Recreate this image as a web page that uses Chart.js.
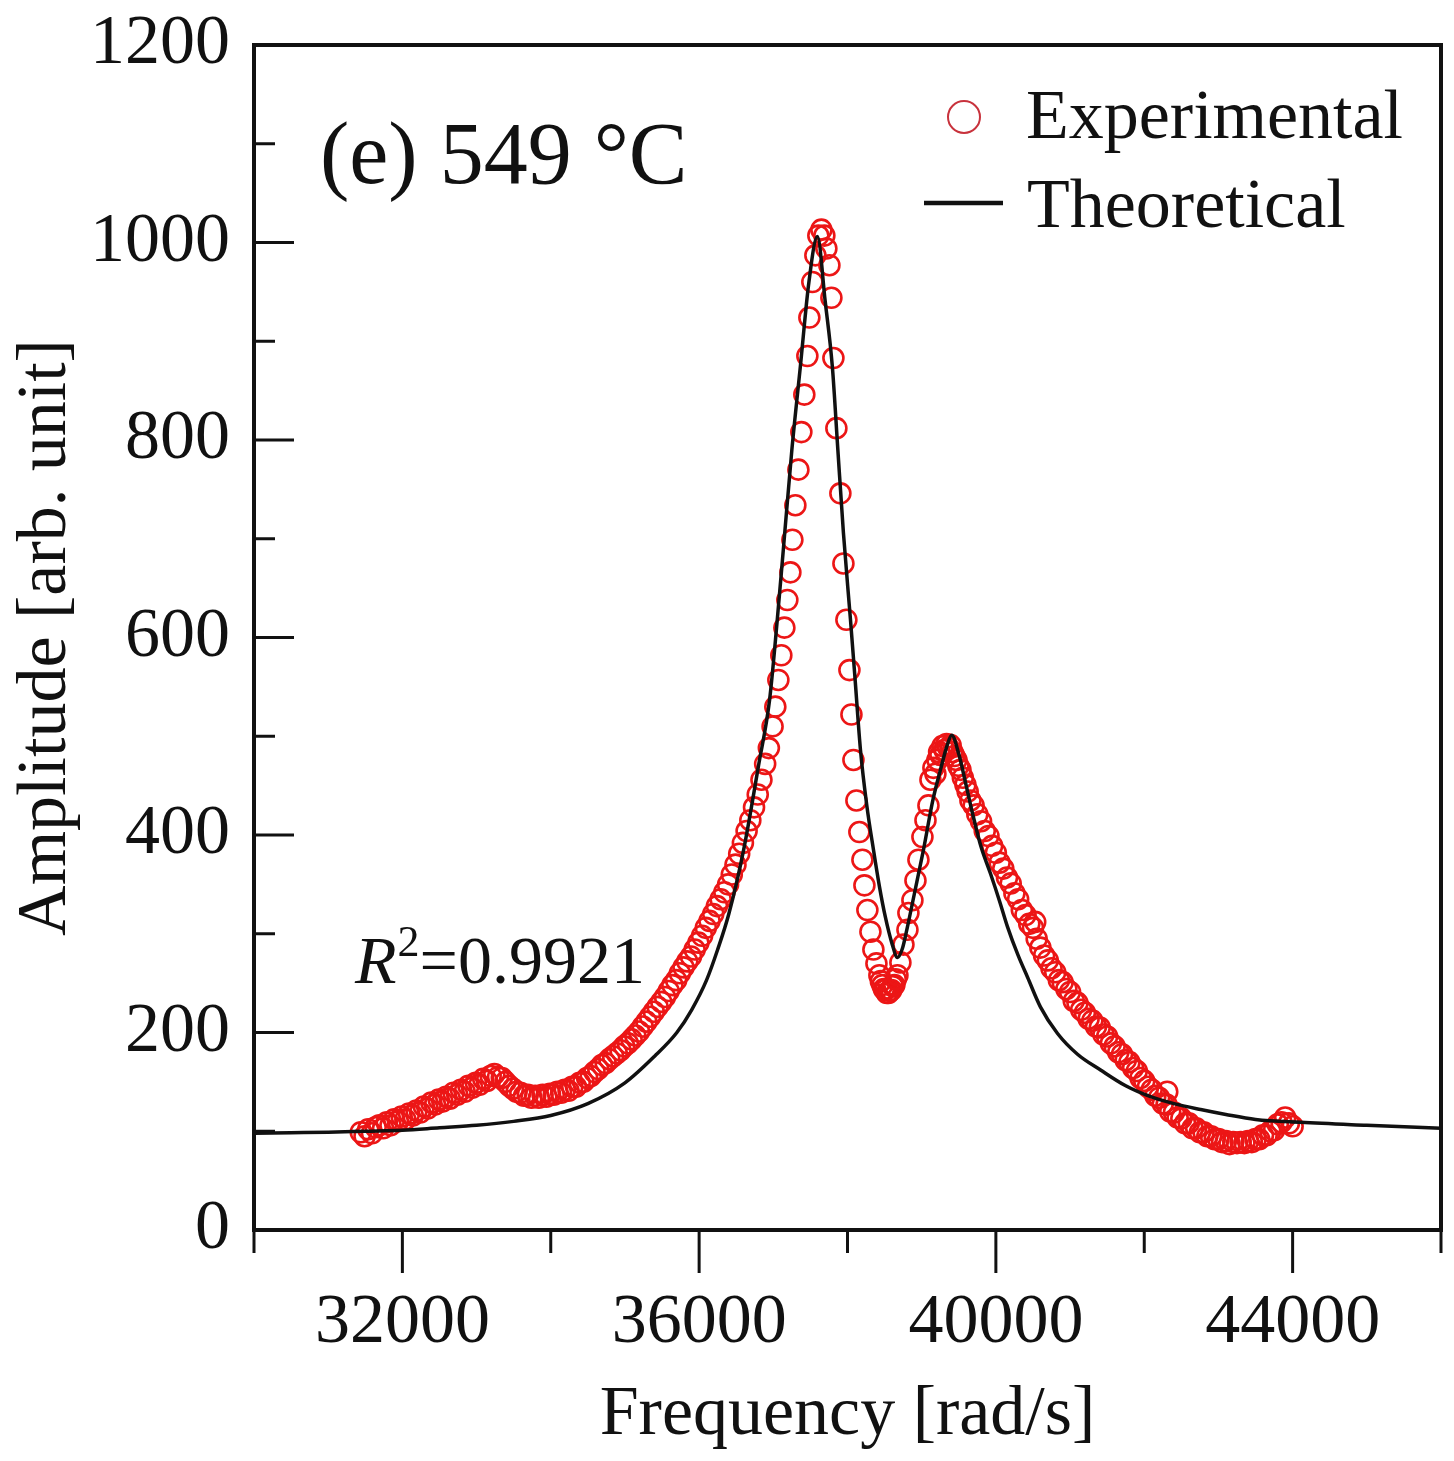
<!DOCTYPE html>
<html><head><meta charset="utf-8">
<script src="https://cdn.jsdelivr.net/npm/chart.js@4.4.1/dist/chart.umd.min.js"></script>
<style>html,body{margin:0;padding:0;background:#fff;}#wrap{width:1454px;height:1461px;position:relative;}</style>
</head><body><div id="wrap"><canvas id="c" width="1454" height="1461"></canvas></div>
<script>
const seriesNames = ['Experimental', 'Theoretical'];
const panelLabel = '(e) 549 °C';
const fitSymbol = 'R', fitSup = '2', fitValue = '=0.9921';
const xTitle = 'Frequency [rad/s]';
const yTitle = 'Amplitude [arb. unit]';
const xLabeled = [32000, 36000, 40000, 44000];

const theoFreq = [30000,30500,31000,31500,32000,32500,33000,33500,34000,34500,35000,35400,35700,35900,36100,36250,36400,36600,36800,36950,37050,37135,37250,37364,37480,37594,37700,37796,37870,37945,38040,38100,38175,38260,38350,38430,38510,38600,38673,38740,38808,38900,39024,39150,39253,39340,39405,39500,39600,39698,39800,39927,40050,40157,40300,40427,40600,40831,41100,41411,41750,42085,42400,42760,43100,43500,44108,45000,46000];
const theoAmp  = [98,98.5,99,100,101,103.5,106,110,116,128,149,176,200,223,253,284,320,385,470,537,615,689,790,874,960,1006,940,874,790,706,618,560,486,430,385,348,317,290,276,285,307,340,385,435,466,490,501,482,450,418,388,361,333,307,278,256,226,199,178,162,146,135,128,122,117,112,109,106,103];

const expFreq = [
31440,31490,31540,31590,31640,31690,31740,31790,31840,31890,
31940,31990,32040,32090,32140,32190,32240,32290,32340,32390,
32440,32490,32540,32590,32640,32690,32740,32790,32840,32890,
32940,32990,33040,33090,33140,33190,33240,33290,33340,33390,
33440,33490,33540,33590,33640,33690,33740,33790,33840,33890,
33940,33990,34040,34090,34140,34190,34240,34290,34340,34390,
34440,34490,34540,34590,34640,34690,34740,34790,34840,34890,
34940,34990,35040,35090,35140,35190,35240,35290,35340,35390,
35440,35490,35540,35590,35640,35690,35740,35790,35840,35890,
35940,35990,36040,36090,36140,36190,36240,36290,36340,36390,
36440,36490,36540,36590,36640,36690,36740,36790,36840,36890,
36940,36990,
37027,37068,37108,37149,37189,37230,37257,37297,37338,37378,
37418,37459,37486,37526,37567,37607,37648,37688,37715,37756,
37783,37810,37850,37904,37945,37985,38026,38053,38080,38120,
38160,38201,38228,38268,38309,38349,38390,38430,38450,38470,
38490,38511,38530,38552,38570,38592,38610,38632,38650,38673,
38713,38754,38808,38821,38875,38916,38956,39010,39051,39091,
39118,39158,39185,39212,39235,39253,39280,39307,39335,39361,
39390,39415,39440,39469,39495,39523,39555,39590,39620,39657,
39700,39750,39800,39850,39900,39950,40000,40050,40100,40150,
40200,40250,40300,40350,40400,40450,40500,40550,40600,40650,
40700,40750,40800,40850,40900,40950,41000,41050,41100,41150,
41200,41250,41300,41350,41400,41450,41500,41550,41600,41650,
41700,41750,41800,41850,41900,41950,42000,42050,42100,42150,
42200,42250,42300,42350,42400,42450,42500,42550,42600,42650,
42700,42750,42800,42850,42900,42950,43000,43050,43100,43150,
43200,43250,43300,43350,43400,43450,43500,43550,43600,43650,
43700,43750,43800,43850,43900,43950,44000,42310,40530];
const expAmp = [
99,95,102,98,104,106,103,109,106,112,
110,115,112,118,116,121,119,125,123,129,
127,132,130,135,133,139,137,142,140,146,
144,149,147,153,151,156,158,155,154,150,
146,143,140,139,136,137,134,136,134,137,
135,138,137,140,139,142,141,145,145,149,
150,154,156,160,163,167,169,173,176,179,
182,186,189,193,197,201,206,211,216,221,
226,231,236,242,248,253,260,266,272,277,
284,291,298,306,313,320,328,335,342,350,
360,370,381,392,404,415,428,441,456,472,
488,510,
530,557,582,610,638,666,699,734,770,808,
846,885,924,960,987,1007,1013,1007,994,977,
944,883,812,746,675,618,567,522,476,435,
403,375,349,324,302,284,270,258,252,248,
244,243,240,240,242,243,247,248,254,258,
271,289,304,321,334,354,375,398,415,430,
456,468,462,476,484,481,490,486,492,488,
491,484,480,476,470,466,458,451,444,435,
430,421,414,404,399,389,382,372,366,357,
351,341,335,324,319,310,306,295,286,278,
273,265,261,253,251,244,241,232,230,223,
220,214,212,206,205,198,196,189,186,180,
178,172,170,164,161,154,151,145,142,136,
134,128,127,120,119,114,113,108,108,103,
103,99,99,95,95,92,92,89,90,87,
89,88,89,88,90,89,92,92,96,96,
100,101,107,109,114,108,105,140,312];

const FONT = '"Liberation Serif", "Times New Roman", serif';

const decor = {
  id: 'decor',
  afterDraw(chart) {
    const {ctx, chartArea: a, scales: {x, y}} = chart;
    ctx.save();
    ctx.strokeStyle = '#111';
    ctx.lineCap = 'butt';
    ctx.lineWidth = 3;
    x.ticks.forEach(t => {
      const px = x.getPixelForValue(t.value);
      const major = xLabeled.includes(t.value);
      ctx.beginPath(); ctx.moveTo(px, a.bottom); ctx.lineTo(px, a.bottom + (major ? 43 : 23)); ctx.stroke();
    });
    const yt = y.ticks.map(t => t.value);
    yt.forEach((v, i) => {
      const py = y.getPixelForValue(v);
      ctx.beginPath(); ctx.moveTo(a.left, py); ctx.lineTo(a.left + 40, py); ctx.stroke();
      if (i < yt.length - 1) {
        const pm = y.getPixelForValue((v + yt[i + 1]) / 2);
        ctx.beginPath(); ctx.moveTo(a.left, pm); ctx.lineTo(a.left + 21, pm); ctx.stroke();
      }
    });
    ctx.lineWidth = 4;
    ctx.strokeRect(a.left, a.top, a.right - a.left, a.bottom - a.top);

    ctx.fillStyle = '#111';
    ctx.textBaseline = 'alphabetic';
    ctx.textAlign = 'left';
    ctx.font = '88px ' + FONT;
    ctx.fillText(panelLabel, 320, 183);

    let rx = 355;
    const rb = 983;
    ctx.font = 'italic 68px ' + FONT;
    ctx.fillText(fitSymbol, rx, rb);
    rx += ctx.measureText(fitSymbol).width + 1;
    ctx.font = '44px ' + FONT;
    ctx.fillText(fitSup, rx, rb - 27);
    rx += ctx.measureText(fitSup).width;
    ctx.font = '68px ' + FONT;
    ctx.fillText(fitValue, rx, rb);

    const dsExp = chart.data.datasets[1], dsTheo = chart.data.datasets[0];
    ctx.strokeStyle = 'rgb(200,50,60)';
    ctx.lineWidth = 2;
    ctx.beginPath(); ctx.arc(964, 117, 16, 0, Math.PI * 2); ctx.stroke();
    ctx.font = '70px ' + FONT;
    ctx.fillText(dsExp.label, 1026, 138);
    ctx.strokeStyle = dsTheo.borderColor;
    ctx.lineWidth = 4.5;
    ctx.beginPath(); ctx.moveTo(924, 203); ctx.lineTo(1003, 203); ctx.stroke();
    ctx.fillText(dsTheo.label, 1027, 227);
    ctx.restore();
  }
};

function zeroPad(s) { s.paddingTop = 0; s.paddingBottom = 0; s.paddingLeft = 0; s.paddingRight = 0; }

new Chart(document.getElementById('c'), {
  type: 'scatter',
  data: {
    datasets: [
      {
        type: 'line',
        label: seriesNames[1],
        data: theoFreq.map((f, i) => ({x: f, y: theoAmp[i]})),
        borderColor: '#111',
        borderWidth: 3.5,
        pointRadius: 0,
        cubicInterpolationMode: 'monotone',
        fill: false,
        order: 0
      },
      {
        label: seriesNames[0],
        data: expFreq.map((f, i) => ({x: f, y: expAmp[i]})),
        borderColor: 'rgb(236,22,22)',
        backgroundColor: 'rgba(0,0,0,0)',
        borderWidth: 2.6,
        pointRadius: 10,
        pointStyle: 'circle',
        showLine: false,
        order: 1
      }
    ]
  },
  options: {
    responsive: false,
    animation: false,
    devicePixelRatio: 1,
    layout: {padding: {top: 45, right: 13, left: 0, bottom: 0}},
    plugins: {legend: {display: false}, tooltip: {enabled: false}},
    scales: {
      x: {
        type: 'linear', min: 30000, max: 46000,
        afterFit: s => { s.height = 231; zeroPad(s); },
        grid: {display: false, drawTicks: false},
        border: {display: false},
        ticks: {
          stepSize: 2000, autoSkip: false, maxRotation: 0, padding: 52,
          color: '#111', font: {family: FONT, size: 70},
          callback: v => xLabeled.includes(v) ? String(v) : ''
        },
        title: {display: true, text: xTitle, color: '#111', font: {family: FONT, size: 70}, padding: {top: 0, bottom: 3}}
      },
      y: {
        min: 0, max: 1200,
        afterFit: s => { s.width = 254; zeroPad(s); },
        grid: {display: false, drawTicks: false},
        border: {display: false},
        ticks: {stepSize: 200, padding: 24, color: '#111', font: {family: FONT, size: 70}, callback: v => String(v)},
        title: {display: true, text: yTitle, color: '#111', font: {family: FONT, size: 70}, padding: {top: 5, bottom: 0}}
      }
    }
  },
  plugins: [decor]
});
</script>
</body></html>
